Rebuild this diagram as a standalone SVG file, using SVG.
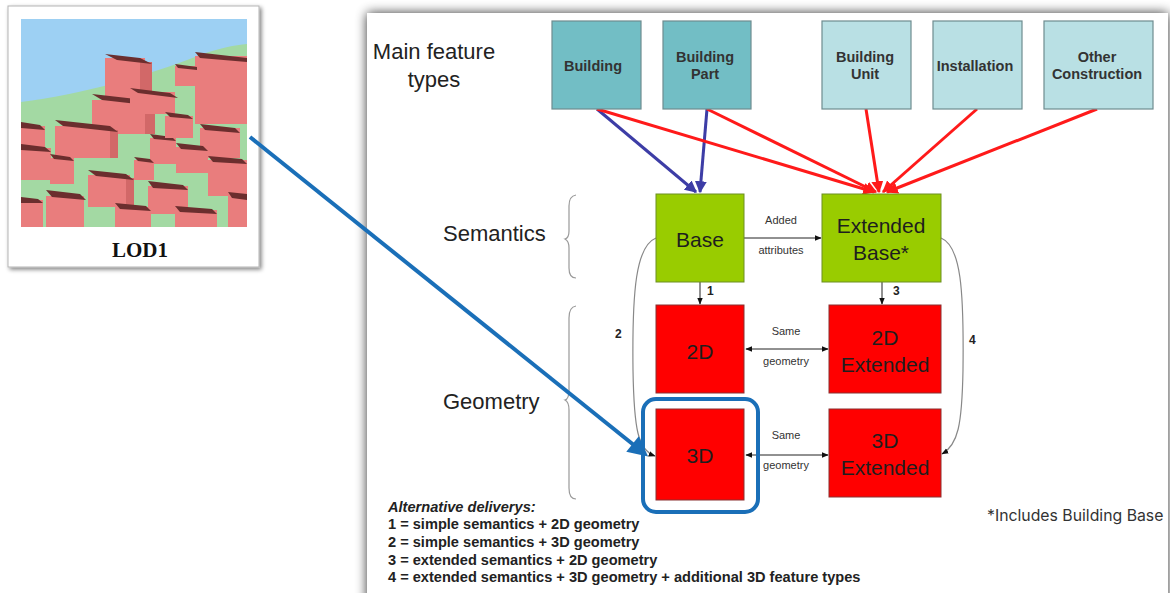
<svg xmlns="http://www.w3.org/2000/svg" width="1170" height="593" viewBox="0 0 1170 593">
  <defs>
    <filter id="shadow" x="-5%" y="-5%" width="110%" height="110%">
      <feGaussianBlur in="SourceAlpha" stdDeviation="6"/>
      <feComponentTransfer><feFuncA type="linear" slope="0.8"/></feComponentTransfer>
      <feMerge><feMergeNode/><feMergeNode in="SourceGraphic"/></feMerge>
    </filter>
    <filter id="cardShadow" x="-10%" y="-10%" width="120%" height="120%">
      <feGaussianBlur in="SourceAlpha" stdDeviation="2"/>
      <feOffset dx="2" dy="2"/>
      <feComponentTransfer><feFuncA type="linear" slope="0.5"/></feComponentTransfer>
      <feMerge><feMergeNode/><feMergeNode in="SourceGraphic"/></feMerge>
    </filter>
    <marker id="arrRed" viewBox="0 0 10 10" refX="9" refY="5" markerWidth="4" markerHeight="4" orient="auto" markerUnits="strokeWidth">
      <path d="M0,0 L10,5 L0,10 z" fill="#ff1a1a"/>
    </marker>
    <marker id="arrPurple" viewBox="0 0 10 10" refX="9" refY="5" markerWidth="4" markerHeight="4" orient="auto" markerUnits="strokeWidth">
      <path d="M0,0 L10,5 L0,10 z" fill="#3d3da6"/>
    </marker>
    <marker id="arrBlk" viewBox="0 0 10 10" refX="9" refY="5" markerWidth="7" markerHeight="7" orient="auto" markerUnits="userSpaceOnUse">
      <path d="M0,1 L10,5 L0,9 z" fill="#111"/>
    </marker>
    <marker id="arrBlkStart" viewBox="0 0 10 10" refX="1" refY="5" markerWidth="7" markerHeight="7" orient="auto" markerUnits="userSpaceOnUse">
      <path d="M10,1 L0,5 L10,9 z" fill="#111"/>
    </marker>
    <marker id="arrBlue" viewBox="0 0 10 10" refX="8" refY="5" markerWidth="5.5" markerHeight="5" orient="auto" markerUnits="strokeWidth">
      <path d="M0,0 L10,5 L0,10 z" fill="#1a6fb8"/>
    </marker>
    <style>
      .sans { font-family: "Liberation Sans", Arial, sans-serif; }
      .feat { fill: #333; font-size: 14.5px; font-weight: bold; text-anchor: middle; }
      .featDark { fill: #72bec5; stroke: #6e8c8f; stroke-width: 1.2; }
      .featLight { fill: #b9e0e4; stroke: #6e8c8f; stroke-width: 1.2; }
      .green { fill: #99cc00; stroke: #6d8f22; stroke-width: 1; }
      .red { fill: #ff0000; stroke: #8a3030; stroke-width: 1; }
      .big { fill: #1e1e1e; font-size: 21px; text-anchor: middle; }
      .small { fill: #333; font-size: 11px; text-anchor: middle; }
      .num { fill: #222; font-size: 12px; font-weight: bold; }
      .side { fill: #222; font-size: 22px; }
      .legend { fill: #222; font-size: 14.6px; font-weight: bold; }
      .redLine { stroke: #ff1a1a; stroke-width: 3; fill: none; marker-end: url(#arrRed); }
      .purpleLine { stroke: #3d3da6; stroke-width: 3; fill: none; marker-end: url(#arrPurple); }
      .thin { stroke: #222; stroke-width: 1; fill: none; marker-end: url(#arrBlk); }
      .curve { stroke: #888; stroke-width: 1.2; fill: none; marker-end: url(#arrBlk); }
      .brace { stroke: #999; stroke-width: 1.2; fill: none; }
      .wall { fill: #e97d7d; }
      .wallS { fill: #d26868; }
      .roof { fill: #6b2e2e; }
    </style>
  </defs>

  <rect width="1170" height="593" fill="#ffffff"/>

  <!-- right panel -->
  <g id="panel">
    <rect x="367" y="13" width="801" height="600" fill="#ffffff" filter="url(#shadow)"/>
  </g>

  <!-- LOD1 picture card -->
  <g id="lod1-card">
    <rect x="8" y="6" width="251" height="261" fill="#ffffff" stroke="#b5b5b5" stroke-width="1" filter="url(#cardShadow)"/>
    <clipPath id="scene"><rect x="21" y="19" width="226" height="208"/></clipPath>
    <g clip-path="url(#scene)">
      <rect x="21" y="19" width="226" height="208" fill="#9dd0f3"/>
      <path d="M21,102 C80,95 150,75 200,55 C220,48 235,45 247,44 L247,227 L21,227 Z" fill="#a3d9a3"/>
      <!-- buildings: roof + front + side -->
      <g>
        <rect class="wall" x="105" y="58" width="40" height="48"/><rect class="wallS" x="140" y="62" width="12" height="44"/><polygon class="roof" points="105,54 140,58 152,64 117,60"/>
        <rect class="wall" x="195" y="56" width="52" height="68"/><polygon class="roof" points="195,52 247,58 247,62 200,58"/>
        <rect class="wall" x="175" y="66" width="22" height="20"/><polygon class="roof" points="175,64 197,67 197,70 178,68"/>
        <rect class="wall" x="92" y="100" width="58" height="34"/><rect class="wallS" x="145" y="103" width="10" height="31"/><polygon class="roof" points="92,94 145,100 155,106 102,100"/>
        <rect class="wall" x="130" y="92" width="45" height="22"/><polygon class="roof" points="130,88 170,93 178,98 138,93"/>
        <rect class="wall" x="55" y="126" width="58" height="32"/><rect class="wallS" x="110" y="130" width="8" height="28"/><polygon class="roof" points="55,120 110,126 118,132 63,126"/>
        <rect class="wall" x="21" y="126" width="24" height="46"/><polygon class="roof" points="21,122 40,125 45,130 21,128"/>
        <rect class="wall" x="21" y="148" width="30" height="32"/><polygon class="roof" points="21,144 45,147 51,152 21,150"/>
        <rect class="wall" x="50" y="158" width="24" height="26"/><polygon class="roof" points="50,154 70,157 74,161 54,159"/>
        <rect class="wall" x="150" y="138" width="26" height="26"/><polygon class="roof" points="150,134 172,137 176,141 154,139"/>
        <rect class="wall" x="165" y="116" width="28" height="22"/><polygon class="roof" points="165,112 188,115 193,119 170,117"/>
        <rect class="wall" x="200" y="128" width="40" height="30"/><polygon class="roof" points="200,124 235,128 240,133 205,130"/>
        <rect class="wall" x="176" y="147" width="32" height="26"/><polygon class="roof" points="176,143 203,146 208,151 181,149"/>
        <rect class="wall" x="208" y="160" width="39" height="36"/><polygon class="roof" points="208,156 242,159 247,164 213,162"/>
        <rect class="wall" x="88" y="175" width="42" height="32"/><rect class="wallS" x="126" y="178" width="8" height="29"/><polygon class="roof" points="88,170 126,174 134,180 96,176"/>
        <rect class="wall" x="134" y="160" width="20" height="20"/><polygon class="roof" points="134,157 150,159 154,163 138,161"/>
        <rect class="wall" x="148" y="186" width="40" height="28"/><polygon class="roof" points="148,181 183,185 188,190 153,188"/>
        <rect class="wall" x="46" y="196" width="38" height="31"/><polygon class="roof" points="46,190 80,194 86,200 52,197"/>
        <rect class="wall" x="21" y="200" width="22" height="27"/><polygon class="roof" points="21,197 38,199 43,203 21,203"/>
        <rect class="wall" x="115" y="207" width="36" height="20"/><polygon class="roof" points="115,203 146,206 151,211 120,209"/>
        <rect class="wall" x="175" y="210" width="42" height="17"/><polygon class="roof" points="175,206 212,209 217,214 180,212"/>
        <rect class="wall" x="228" y="196" width="19" height="31"/><polygon class="roof" points="228,192 247,194 247,200 232,198"/>
      </g>
    </g>
    <text x="140" y="257" font-family="Liberation Serif, Times New Roman, serif" font-size="21" font-weight="bold" fill="#111" text-anchor="middle">LOD1</text>
  </g>

  <!-- side headings -->
  <g id="headings" class="sans">
    <text x="434" y="59" class="side" text-anchor="middle">Main feature</text>
    <text x="434" y="87" class="side" text-anchor="middle">types</text>
    <text x="443" y="241" class="side">Semantics</text>
    <text x="443" y="409" class="side">Geometry</text>
  </g>

  <!-- grouping braces -->
  <g id="braces">
    <path class="brace" d="M576,195 Q569,196 569,206 L569,231 Q569,238 565,239 Q569,241 569,248 L569,268 Q569,278 576,278"/>
    <path class="brace" d="M576,306 Q569,307 569,318 L569,390 Q569,399 565,400 Q569,402 569,410 L569,488 Q569,499 576,499"/>
  </g>

  <!-- connectors -->
  <g id="connectors">
    <line class="purpleLine" x1="597" y1="109" x2="696" y2="192"/>
    <line class="purpleLine" x1="707" y1="109" x2="700" y2="192"/>
    <line class="redLine" x1="597" y1="109" x2="874" y2="192"/>
    <line class="redLine" x1="707" y1="109" x2="876" y2="192"/>
    <line class="redLine" x1="866" y1="109" x2="879" y2="192"/>
    <line class="redLine" x1="977" y1="109" x2="883" y2="192"/>
    <line class="redLine" x1="1097" y1="109" x2="887" y2="192"/>

    <line class="thin" x1="744" y1="238" x2="821" y2="238"/>
    <line class="thin" x1="700" y1="282" x2="700" y2="304"/>
    <line class="thin" x1="882" y1="282" x2="882" y2="304"/>
    <line class="thin" x1="746" y1="349" x2="828" y2="349" marker-start="url(#arrBlkStart)"/>
    <line class="thin" x1="746" y1="455" x2="828" y2="455" marker-start="url(#arrBlkStart)"/>

    <path class="curve" d="M656,238 C636,246 632,290 633,370 C634,430 638,450 655,456"/>
    <path class="curve" d="M941,238 C961,246 964,290 963,370 C962,425 958,445 942,454"/>

    <line x1="250" y1="137" x2="645" y2="454" stroke="#1a6fb8" stroke-width="4" marker-end="url(#arrBlue)"/>
  </g>

  <!-- connector labels -->
  <g id="connector-labels" class="sans">
    <text x="781" y="224" class="small">Added</text>
    <text x="781" y="254" class="small">attributes</text>
    <text x="707" y="295" class="num">1</text>
    <text x="893" y="295" class="num">3</text>
    <text x="615" y="338" class="num">2</text>
    <text x="969" y="344" class="num">4</text>
    <text x="786" y="335" class="small">Same</text>
    <text x="786" y="365" class="small">geometry</text>
    <text x="786" y="439" class="small">Same</text>
    <text x="786" y="469" class="small">geometry</text>
  </g>

  <!-- feature type nodes -->
  <g id="node-building" class="sans">
    <rect class="featDark" x="552" y="21" width="89" height="88"/>
    <text x="593" y="71" class="feat">Building</text>
  </g>
  <g id="node-building-part" class="sans">
    <rect class="featDark" x="663" y="21" width="88" height="88"/>
    <text x="705" y="62" class="feat">Building</text>
    <text x="705" y="79" class="feat">Part</text>
  </g>
  <g id="node-building-unit" class="sans">
    <rect class="featLight" x="822" y="21" width="89" height="88"/>
    <text x="865" y="62" class="feat">Building</text>
    <text x="865" y="79" class="feat">Unit</text>
  </g>
  <g id="node-installation" class="sans">
    <rect class="featLight" x="933" y="21" width="89" height="88"/>
    <text x="975" y="71" class="feat">Installation</text>
  </g>
  <g id="node-other-construction" class="sans">
    <rect class="featLight" x="1044" y="21" width="109" height="88"/>
    <text x="1097" y="62" class="feat">Other</text>
    <text x="1097" y="79" class="feat">Construction</text>
  </g>

  <!-- semantics nodes -->
  <g id="node-base" class="sans">
    <rect class="green" x="656" y="194" width="88" height="88"/>
    <text x="700" y="247" class="big">Base</text>
  </g>
  <g id="node-extended-base" class="sans">
    <rect class="green" x="822" y="194" width="119" height="88"/>
    <text x="881" y="233" class="big">Extended</text>
    <text x="881" y="260" class="big">Base*</text>
  </g>

  <!-- geometry nodes -->
  <g id="node-2d" class="sans">
    <rect class="red" x="656" y="305" width="88" height="88"/>
    <text x="700" y="359" class="big">2D</text>
  </g>
  <g id="node-2d-extended" class="sans">
    <rect class="red" x="829" y="305" width="112" height="88"/>
    <text x="885" y="345" class="big">2D</text>
    <text x="885" y="372" class="big">Extended</text>
  </g>
  <g id="node-3d" class="sans">
    <rect class="red" x="656" y="409" width="88" height="91"/>
    <text x="700" y="463" class="big">3D</text>
    <rect x="643" y="399" width="115" height="113" rx="13" fill="none" stroke="#1a6fb8" stroke-width="4"/>
  </g>
  <g id="node-3d-extended" class="sans">
    <rect class="red" x="829" y="409" width="112" height="88"/>
    <text x="885" y="448" class="big">3D</text>
    <text x="885" y="475" class="big">Extended</text>
  </g>

  <!-- notes -->
  <g id="notes" class="sans">
    <text x="388" y="512" class="legend" font-style="italic">Alternative deliverys:</text>
    <text x="388" y="529" class="legend">1 = simple semantics + 2D geometry</text>
    <text x="388" y="547" class="legend">2 = simple semantics + 3D geometry</text>
    <text x="388" y="565" class="legend">3 = extended semantics + 2D geometry</text>
    <text x="388" y="582" class="legend">4 = extended semantics + 3D geometry + additional 3D feature types</text>
    <text x="987" y="521" fill="#333" font-size="15.8px" font-family="Inter, 'Noto Sans', sans-serif">*Includes Building Base</text>
  </g>
</svg>
